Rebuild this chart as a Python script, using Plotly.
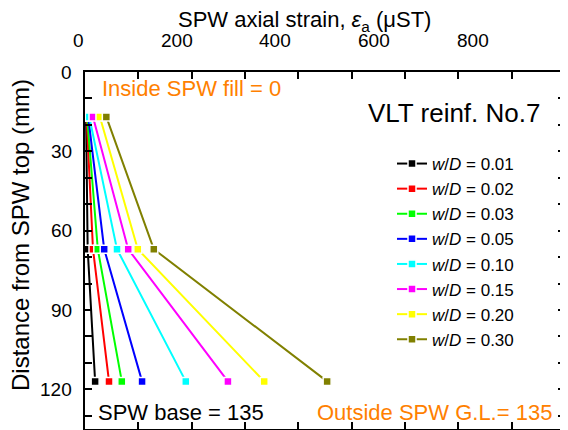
import plotly.graph_objects as go

W, H = 568, 430
OFF = 8  # page body margin of the html page

# ---------------- data ----------------
depth_mm = [17, 67, 117]
ratio_labels = ["0.01", "0.02", "0.03", "0.05", "0.10", "0.15", "0.20", "0.30"]
strain_001 = [2, 5, 19]
strain_002 = [3, 15, 45]
strain_003 = [4, 24, 69]
strain_005 = [6, 36, 107]
strain_010 = [8, 60, 189]
strain_015 = [15, 81, 268]
strain_020 = [28, 99, 336]
strain_030 = [40, 129, 454]
x_tick_labels = [0, 200, 400, 600, 800]
y_tick_labels = [0, 30, 60, 90, 120]

series = [strain_001, strain_002, strain_003, strain_005,
          strain_010, strain_015, strain_020, strain_030]
colors = ["#000000", "#FF0000", "#00FF00", "#0000FF",
          "#00FFFF", "#FF00FF", "#FFFF00", "#808000"]
ORANGE = "#FF8000"
FONT = "Liberation Sans, Arial, sans-serif"

def fx(px):
    return (px - OFF) / W

def fy(py):
    return (H - (py - OFF)) / H

# frame in page pixels
L, R, T, B = 85, 565, 72, 429

# the printed strain numbers sit on their own (slightly narrower) scale
lab0_px, lab_scale = 78.0, 0.4935

fig = go.Figure()
for vals, lab, col in zip(series, ratio_labels, colors):
    fig.add_trace(go.Scatter(
        x=vals, y=depth_mm, mode="lines+markers",
        name="<i>w</i>/<i>D</i> = " + lab,
        line=dict(color=col, width=2),
        marker=dict(symbol="square", size=8, color=col,
                    line=dict(color="white", width=1.5)),
        xaxis="x", yaxis="y",
    ))

fig.update_layout(
    width=W, height=H,
    margin=dict(l=0, r=0, t=0, b=0, pad=0, autoexpand=False),
    paper_bgcolor="white", plot_bgcolor="white",
    font=dict(family=FONT, color="black", size=19),
    showlegend=True,
    legend=dict(x=fx(392), y=fy(146), xanchor="left", yanchor="top",
                bgcolor="rgba(0,0,0,0)", font=dict(size=17),
                itemsizing="trace"),
    xaxis=dict(domain=[fx(L), fx(R)], range=[0, 900],
               showline=True, mirror="allticks", linecolor="black", linewidth=2,
               showgrid=False, zeroline=False, showticklabels=False,
               ticks="inside", ticklen=7, tickwidth=2, tickcolor="black",
               tickmode="linear", tick0=0, dtick=100,
               anchor="y"),
    yaxis=dict(domain=[fy(B), fy(T)], range=[135, 0],
               showline=True, mirror="allticks", linecolor="black", linewidth=2,
               showgrid=False, zeroline=False, showticklabels=False,
               ticks="inside", ticklen=7, tickwidth=2, tickcolor="black",
               tickmode="linear", tick0=0, dtick=10,
               anchor="x"),
)

annos = [
    dict(text="SPW axial strain, <i>ε</i><sub>a</sub> (μST)", x=fx(304), y=fy(21),
         xanchor="center", yanchor="middle", font=dict(size=22)),
    dict(text="Distance from SPW top (mm)", x=fx(20), y=fy(235), textangle=-90,
         xanchor="center", yanchor="middle", font=dict(size=24)),
    dict(text="Inside SPW fill = 0", x=fx(101), y=fy(88),
         xanchor="left", yanchor="middle", font=dict(size=22, color=ORANGE)),
    dict(text="VLT reinf. No.7", x=fx(367), y=fy(113),
         xanchor="left", yanchor="middle", font=dict(size=26)),
    dict(text="SPW base = 135", x=fx(97), y=fy(412),
         xanchor="left", yanchor="middle", font=dict(size=22)),
    dict(text="Outside SPW G.L.= 135", x=fx(316), y=fy(412),
         xanchor="left", yanchor="middle", font=dict(size=22, color=ORANGE)),
]
for a in annos:
    fig.add_annotation(xref="paper", yref="paper", showarrow=False,
                       borderpad=0, **a)

# strain numbers along the top, printed on their own scale
for v in x_tick_labels:
    fig.add_annotation(text=str(v), xref="paper", yref="paper",
                       x=fx(lab0_px + lab_scale * v), y=fy(40),
                       xanchor="center", yanchor="middle", showarrow=False,
                       borderpad=0, font=dict(size=19))

# depth numbers on the left, placed through the depth axis
for v in y_tick_labels:
    fig.add_annotation(text=str(v), xref="paper", yref="y",
                       x=fx(73), y=v, xanchor="right", yanchor="middle",
                       showarrow=False, borderpad=0, font=dict(size=19))

fig.write_html("out.html")
